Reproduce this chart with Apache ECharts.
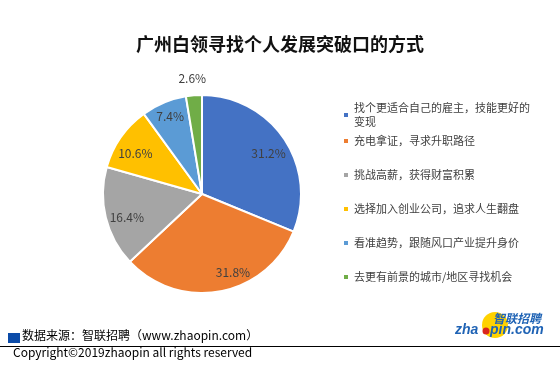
<!DOCTYPE html>
<html><head><meta charset="utf-8">
<script src="https://cdn.jsdelivr.net/npm/echarts@6/dist/echarts.min.js"></script>
<style>html,body{margin:0;padding:0;background:#fff}#c{width:560px;height:369px}</style>
</head><body><div id="c"></div>
<script>
var title = '广州白领寻找个人发展突破口的方式';
var categories = ['找个更适合自己的雇主，技能更好的变现','充电拿证，寻求升职路径','挑战高薪，获得财富积累','选择加入创业公司，追求人生翻盘','看准趋势，跟随风口产业提升身价','去更有前景的城市/地区寻找机会'];
var values = [31.2, 31.8, 16.4, 10.6, 7.4, 2.6];
var colors = ['#4472C4','#ED7D31','#A5A5A5','#FFC000','#5B9BD5','#70AD47'];
var sourceText = '数据来源：智联招聘（www.zhaopin.com）';
var copyrightText = 'Copyright©2019zhaopin all rights reserved';

var FONT = '"Microsoft YaHei","Noto Sans CJK SC",sans-serif';
var labelOffsets = [[-2,5],[16,-3],[5,4],[1,7],[0,-1],[-3,-33]];
var chart = echarts.init(document.getElementById('c'), null, {renderer:'canvas'});
var mainData = categories.map(function(n,i){return {name:n,value:values[i],itemStyle:{color:colors[i]}};});
var labelData = categories.map(function(n,i){
  return {name:n,value:values[i],label:{offset:labelOffsets[i]}};
});
chart.setOption({
  animation:false,
  color: colors,
  title:{text:title,left:'center',top:30,textStyle:{fontFamily:FONT,fontSize:18,fontWeight:'bold',color:'#111'}},
  legend:[{
    orient:'vertical',left:337,top:96,icon:'rect',itemWidth:6,itemHeight:6,
    data:[categories[0]],
    textStyle:{fontFamily:FONT,fontSize:11,color:'#404040',width:178,overflow:'break',lineHeight:14}
  },{
    orient:'vertical',left:337,top:129,icon:'rect',itemWidth:6,itemHeight:6,itemGap:20,
    data:categories.slice(1),
    textStyle:{fontFamily:FONT,fontSize:11,color:'#404040',lineHeight:14}
  }],
  series:[{
    type:'pie',center:[202,194],radius:[0,99],startAngle:90,clockwise:true,
    label:{show:false},labelLine:{show:false},
    itemStyle:{borderColor:'#fff',borderWidth:2},
    emphasis:{disabled:true},
    data:mainData
  },{
    type:'pie',center:[202,194],radius:[60,99],startAngle:90,clockwise:true,silent:true,
    itemStyle:{color:'rgba(0,0,0,0)',borderWidth:0},
    labelLine:{show:false},
    label:{show:true,position:'inside',formatter:function(p){return p.value.toFixed(1)+'%';},fontFamily:FONT,fontSize:12,color:'#404040'},
    emphasis:{disabled:true},
    data:labelData
  }],
  graphic:[
    {type:'rect',shape:{x:8,y:333,width:12,height:10},style:{fill:'#0B4BA8'}},
    {type:'text',left:22,top:329,style:{text:sourceText,font:'12px '+FONT,fill:'#000'}},
    {type:'line',shape:{x1:0,y1:346.5,x2:560,y2:346.5},style:{stroke:'#000',lineWidth:1}},
    {type:'text',left:13,top:346,style:{text:copyrightText,font:'12px '+FONT,fill:'#000'}},
    {type:'circle',shape:{cx:495,cy:325,r:13},style:{fill:'#FFD200'}},
    {type:'text',left:493,top:312,style:{text:'智联招聘',font:'italic bold 12px '+FONT,fill:'#1F63B5'}},
    {type:'text',left:455,top:323,style:{text:'zha',font:'italic bold 14px Arial,"Liberation Sans",sans-serif',fill:'#1F63B5'}},
    {type:'circle',shape:{cx:486,cy:331,r:3.5},style:{fill:'#D9251C'}},
    {type:'text',left:490,top:323,style:{text:'pin.com',font:'italic bold 14px Arial,"Liberation Sans",sans-serif',fill:'#1F63B5'}}
  ]
});
</script></body></html>
